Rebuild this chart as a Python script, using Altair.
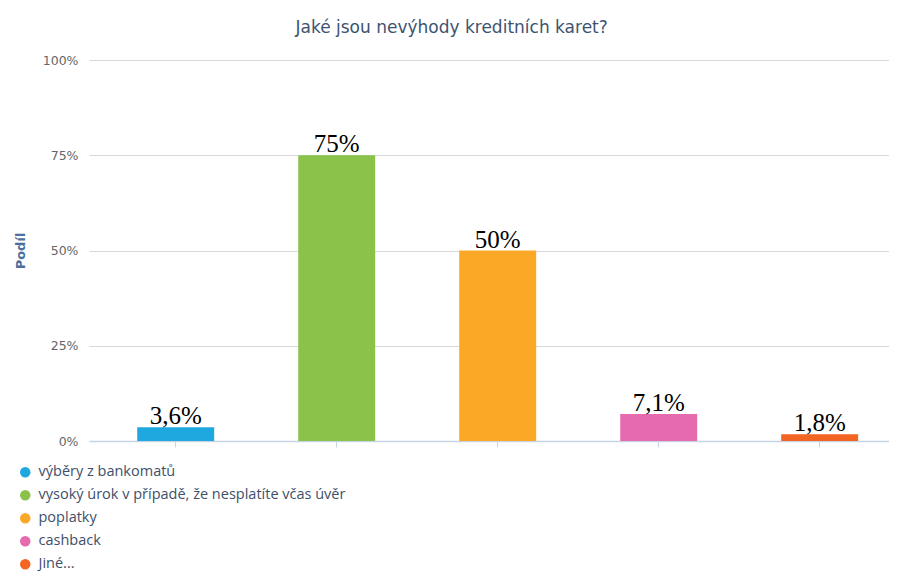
import altair as alt
import pandas as pd

categories = ["výběry z bankomatů", "vysoký úrok v případě, že nesplatíte včas úvěr",
              "poplatky", "cashback", "Jiné..."]
values = [3.6, 75, 50, 7.1, 1.8]
labels = ["3,6%", "75%", "50%", "7,1%", "1,8%"]
colors = ["#1fa8e0", "#8bc34a", "#fba826", "#e66aae", "#f26522"]
y_ticks = [0, 25, 50, 75, 100]

df = pd.DataFrame({"cat": categories, "val": values, "lab": labels})

xenc = alt.X("cat:N", sort=categories,
             scale=alt.Scale(paddingInner=0.522, paddingOuter=0.2455, align=0.61),
             axis=alt.Axis(title=None, labels=False, ticks=True, tickSize=6,
                           tickColor="#c6d4e4", domainColor="#c6d4e4", domainWidth=1.5,
                           grid=False))

bars = alt.Chart(df).mark_bar().encode(
    x=xenc,
    y=alt.Y("val:Q", scale=alt.Scale(domain=[0, 100], nice=False),
            axis=alt.Axis(title="Podíl", values=y_ticks,
                          labelExpr="datum.value + '%'",
                          labelFont="DejaVu Sans", labelFontSize=12.5, labelColor="#666666",
                          labelPadding=11, ticks=False, domain=False,
                          gridColor="#d8d8d8", gridWidth=1,
                          titleFont="DejaVu Sans", titleFontSize=13, titleFontWeight="bold",
                          titleColor="#4d6f9c", titlePadding=15)),
    color=alt.Color("cat:N", sort=categories,
                    scale=alt.Scale(domain=categories, range=colors),
                    legend=alt.Legend(title=None, orient="none", legendX=-71, legendY=405,
                                      symbolType="circle", symbolSize=110,
                                      symbolStrokeWidth=0, labelFont="Open Sans",
                                      labelFontSize=14.5, labelColor="#3d4f6a",
                                      rowPadding=8, labelLimit=500, labelOffset=6)),
)

text = alt.Chart(df).mark_text(font="Liberation Serif", fontSize=25, color="black",
                               baseline="alphabetic", dy=-3).encode(
    x=alt.X("cat:N", sort=categories),
    y="val:Q",
    text="lab:N",
)

chart = alt.layer(bars, text).properties(
    width=800, height=381,
    autosize=alt.AutoSizeParams(type="none"),
    padding={"left": 81, "top": 52, "right": 0, "bottom": 131},
    title=alt.TitleParams("Jaké jsou nevýhody kreditních karet?", font="DejaVu Sans",
                          fontSize=17, fontWeight="normal", color="#3d5370",
                          anchor="middle", frame="bounds", offset=17),
).configure_view(stroke=None)

chart.save("out.html", embed_options={"renderer": "svg", "actions": False})
